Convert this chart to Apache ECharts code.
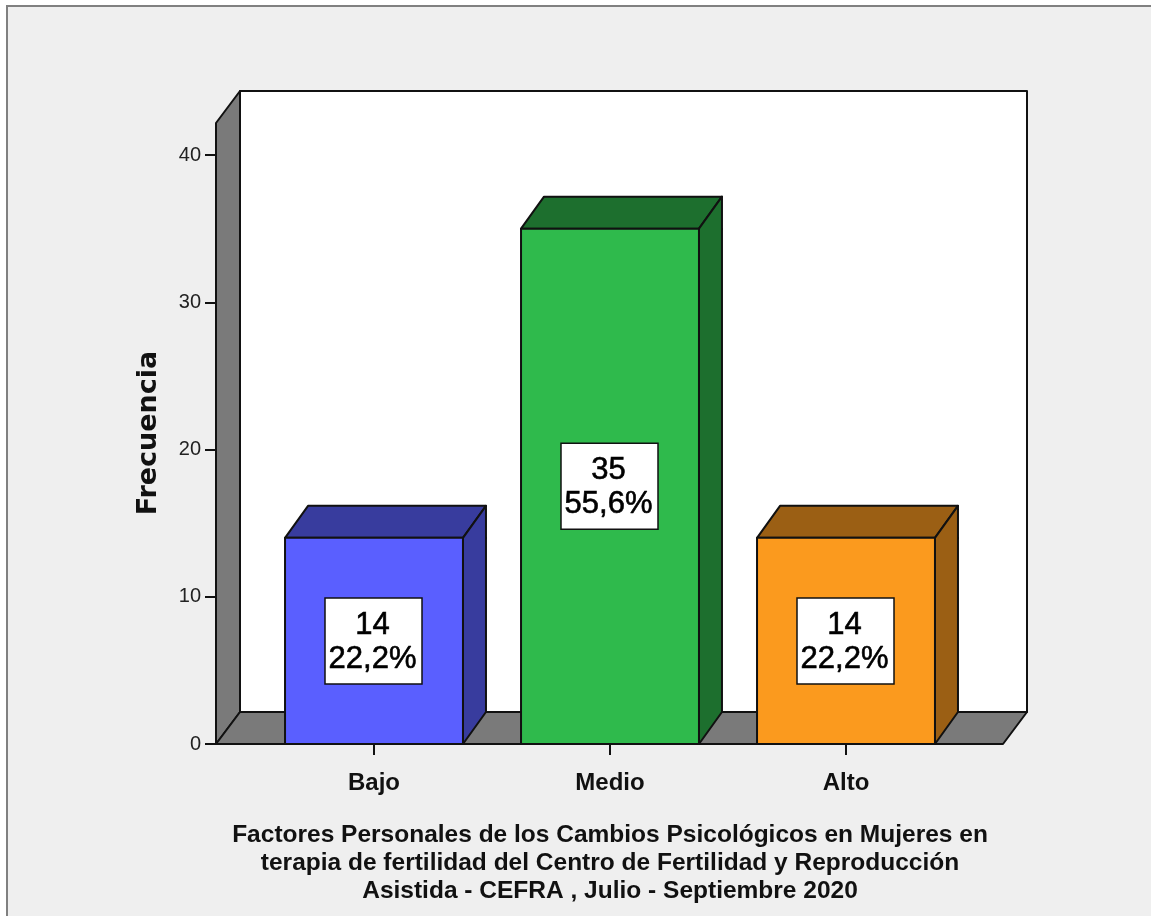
<!DOCTYPE html>
<html>
<head>
<meta charset="utf-8">
<style>html,body{margin:0;padding:0;background:#fff}#c{width:1151px;height:916px}</style>
<script src="https://cdn.jsdelivr.net/npm/echarts@6/dist/echarts.min.js"></script>
</head>
<body>
<div id="c"></div>
<script>
const categories = ['Bajo', 'Medio', 'Alto'];
const frequencies = [14, 35, 14];
const percentLabels = ['22,2%', '55,6%', '22,2%'];
const frontColors = ['#5a5fff', '#2fba4c', '#fb9a1e'];
const sideColors = ['#383c9e', '#1d6f2e', '#9b5f14'];
const yTicks = { min: 0, max: 40, interval: 10 };
const yAxisTitle = 'Frecuencia';
const xAxisTitle = 'Factores Personales de los Cambios Psicológicos en Mujeres en\nterapia de fertilidad del Centro de Fertilidad y Reproducción\nAsistida - CEFRA , Julio - Septiembre 2020';

const DX = 23, DY = -32, WALL_DX = 24, WALL_LEFT = 40, WALL_RIGHT = 39, LINE = '#111';
const FONT = '"Liberation Sans", Arial, sans-serif';
const edge = { stroke: LINE, lineWidth: 2, lineJoin: 'round' };

function poly(points, fill) {
  return { type: 'polygon', shape: { points }, style: Object.assign({ fill }, edge) };
}

function renderWalls(params, api) {
  const cs = params.coordSys;
  const y0 = api.coord([0, yTicks.min])[1];
  const yTop = api.coord([0, yTicks.max])[1] + DY;
  const xl = cs.x - WALL_LEFT, xr = cs.x + cs.width + WALL_RIGHT;
  return {
    type: 'group',
    children: [
      poly([[xl + WALL_DX, yTop + DY], [xr + WALL_DX, yTop + DY], [xr + WALL_DX, y0 + DY], [xl + WALL_DX, y0 + DY]], '#ffffff'),
      poly([[xl, yTop], [xl + WALL_DX, yTop + DY], [xl + WALL_DX, y0 + DY], [xl, y0]], '#7a7a7a'),
      poly([[xl, y0], [xl + WALL_DX, y0 + DY], [xr + WALL_DX, y0 + DY], [xr, y0]], '#7a7a7a')
    ]
  };
}

function renderBar(params, api) {
  const i = params.dataIndex;
  const top = api.coord([api.value(0), api.value(1)]);
  const base = api.coord([api.value(0), 0]);
  const w = api.size([1, 0])[0] * 0.754;
  const l = top[0] - w / 2, r = top[0] + w / 2, t = top[1], b = base[1];
  const cy = (t + b) / 2;
  const bw = 97, bh = 86;
  return {
    type: 'group',
    children: [
      poly([[l, t], [l + DX, t + DY], [r + DX, t + DY], [r, t]], sideColors[i]),
      poly([[r, t], [r + DX, t + DY], [r + DX, b + DY], [r, b]], sideColors[i]),
      poly([[l, t], [r, t], [r, b], [l, b]], frontColors[i]),
      { type: 'rect', shape: { x: top[0] - bw / 2 - 0.5, y: cy - bh / 2, width: bw, height: bh },
        style: { fill: '#fff', stroke: LINE, lineWidth: 1.5 } },
      { type: 'text', x: top[0] - 1.5, y: cy + 1.5,
        style: { text: frequencies[i] + '\n' + percentLabels[i], fill: '#000', stroke: '#000', lineWidth: 0.6,
                 align: 'center', verticalAlign: 'middle', font: '31px ' + FONT, lineHeight: 34 } }
    ]
  };
}

const chart = echarts.init(document.getElementById('c'), null, { renderer: 'canvas' });
chart.setOption({
  animation: false,
  backgroundColor: '#ffffff',
  graphic: [{
    type: 'rect', z: -10, silent: true,
    shape: { x: 7, y: 6, width: 1300, height: 1100 },
    style: { fill: '#efefef', stroke: '#808080', lineWidth: 2 }
  }],
  grid: { left: 256, right: 187, top: 155, bottom: 172, containLabel: false },
  xAxis: {
    type: 'category',
    data: categories,
    axisLine: { show: false },
    axisTick: { show: true, alignWithLabel: true, length: 11, lineStyle: { color: LINE, width: 2 } },
    axisLabel: { margin: 27, color: '#111', fontFamily: FONT, fontWeight: 'bold', fontSize: 24 },
    name: xAxisTitle,
    nameLocation: 'middle',
    nameGap: 77,
    nameTextStyle: { color: '#111', fontFamily: FONT, fontWeight: 'bold', fontSize: 24.5, lineHeight: 28, verticalAlign: 'top' }
  },
  yAxis: {
    type: 'value',
    min: yTicks.min, max: yTicks.max, interval: yTicks.interval,
    offset: WALL_LEFT,
    splitLine: { show: false },
    axisLine: { show: false },
    axisTick: { show: true, length: 11, lineStyle: { color: LINE, width: 2 } },
    axisLabel: { margin: 15, color: '#222', fontFamily: FONT, fontSize: 20 },
    name: yAxisTitle,
    nameLocation: 'middle',
    nameGap: 54,
    nameTextStyle: { color: '#111', fontFamily: '"DejaVu Sans", sans-serif', fontWeight: 'bold', fontSize: 27, padding: [0, 0, 0, 33] }
  },
  series: [
    { type: 'custom', name: 'walls', renderItem: renderWalls, data: [[0, 0]], encode: { x: 0, y: 1 }, z: 1, silent: true },
    { type: 'custom', name: 'Frecuencia', renderItem: renderBar,
      data: categories.map((c, i) => [i, frequencies[i]]), encode: { x: 0, y: 1 }, z: 3, silent: true }
  ]
});
</script>
</body>
</html>
